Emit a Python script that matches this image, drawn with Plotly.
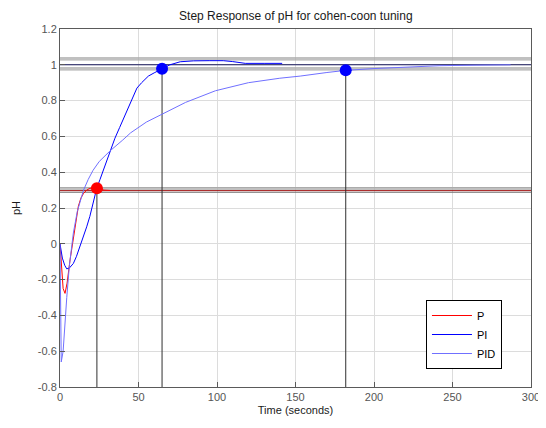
import plotly.graph_objects as go

# ---- data ----
t_p = [0, 0.5, 1.1, 2.0, 3.2, 4.5, 6.4, 8.5, 10, 11.7, 13.3, 14.9, 17, 19, 21, 23.5, 26, 28, 32]
y_p = [0, -0.08, -0.18, -0.25, -0.277, -0.22, -0.09, 0.04, 0.13, 0.21, 0.255, 0.28, 0.30, 0.31, 0.312, 0.31, 0.305, 0.300, 0.298]

t_pi = [0, 0.4, 1.5, 3.0, 4.3, 6.0, 8.5, 10.5, 12.8, 15, 17, 19, 21, 23.4, 25.5, 27.6, 30, 31.9, 35, 38, 41, 45, 49, 52, 56.3, 60, 65, 70, 76.6, 85, 95, 104, 110, 118, 130, 141.5]
y_pi = [0, -0.02, -0.08, -0.12, -0.14, -0.135, -0.11, -0.07, -0.015, 0.04, 0.095, 0.153, 0.23, 0.31, 0.36, 0.41, 0.47, 0.52, 0.59, 0.65, 0.71, 0.79, 0.87, 0.90, 0.937, 0.955, 0.978, 1.0, 1.017, 1.022, 1.023, 1.023, 1.018, 1.008, 1.008, 1.008]

t_pid = [0, 0.3, 0.8, 2.0, 3.0, 4.3, 6.0, 8.5, 11, 15, 18, 21, 25, 32, 40, 45, 55, 65, 80, 99, 120, 140, 153, 170, 182, 200, 217, 242, 265, 287]
y_pid = [0, -0.35, -0.66, -0.60, -0.45, -0.30, -0.12, 0.06, 0.18, 0.30, 0.36, 0.41, 0.46, 0.52, 0.58, 0.62, 0.68, 0.725, 0.79, 0.855, 0.90, 0.925, 0.937, 0.957, 0.969, 0.979, 0.986, 0.995, 0.998, 1.0]

# settling markers (time, value) for P, PI, PID
mark_t = [23.5, 65.0, 182.0]
mark_y = [0.31, 0.978, 0.969]
mark_col = ["#ff0000", "#0000ff", "#0000ff"]

# reference / band levels
final_line = 1.0
band_gray = [1.038, 1.027, 0.982, 0.972, 0.313, 0.306]
band_dark = [0.288]
p_final = 0.297

x_ticks = [0, 50, 100, 150, 200, 250, 300]
x_labels = ["0", "50", "100", "150", "200", "250", "300"]
y_ticks = [-0.8, -0.6, -0.4, -0.2, 0, 0.2, 0.4, 0.6, 0.8, 1.0, 1.2]
y_labels = ["-0.8", "-0.6", "-0.4", "-0.2", "0", "0.2", "0.4", "0.6", "0.8", "1", "1.2"]

X_MIN, X_MAX = 0, 300
Y_MIN, Y_MAX = -0.8, 1.2

fig = go.Figure()

# band lines
for lv in band_gray:
    fig.add_trace(go.Scatter(x=[X_MIN, X_MAX], y=[lv, lv], mode="lines",
                             line=dict(color="#ababab", width=1.3),
                             showlegend=False, hoverinfo="skip"))
for lv in band_dark:
    fig.add_trace(go.Scatter(x=[X_MIN, X_MAX], y=[lv, lv], mode="lines",
                             line=dict(color="#707070", width=1),
                             showlegend=False, hoverinfo="skip"))
fig.add_trace(go.Scatter(x=[X_MIN, X_MAX], y=[final_line, final_line], mode="lines",
                         line=dict(color="#14145a", width=1.1),
                         showlegend=False, hoverinfo="skip"))
fig.add_trace(go.Scatter(x=[X_MIN, X_MAX], y=[p_final, p_final], mode="lines",
                         line=dict(color="#a01010", width=1),
                         showlegend=False, hoverinfo="skip"))

# vertical settling lines
for tx, ty in zip(mark_t, mark_y):
    fig.add_trace(go.Scatter(x=[tx, tx], y=[Y_MIN, ty], mode="lines",
                             line=dict(color="#303030", width=1),
                             showlegend=False, hoverinfo="skip"))

# responses
fig.add_trace(go.Scatter(x=t_p, y=y_p, mode="lines", name="P",
                         line=dict(color="#ff0000", width=1)))
fig.add_trace(go.Scatter(x=t_pi, y=y_pi, mode="lines", name="PI",
                         line=dict(color="#0000ff", width=1)))
fig.add_trace(go.Scatter(x=t_pid, y=y_pid, mode="lines", name="PID",
                         line=dict(color="#7070ff", width=1)))

# markers
fig.add_trace(go.Scatter(x=mark_t, y=mark_y, mode="markers",
                         marker=dict(color=mark_col, size=12, line=dict(width=0)),
                         showlegend=False, hoverinfo="skip"))

font = "Liberation Sans, Arial, sans-serif"
axis_common = dict(showgrid=True, gridcolor="#dcdcdc", gridwidth=1,
                   showline=True, linecolor="#5a5a5a", linewidth=1, mirror=True,
                   ticks="inside", ticklen=5, tickcolor="#5a5a5a", automargin=False,
                   zeroline=False, tickfont=dict(family=font, size=11, color="#555555"))

# the page body adds an 8px offset; figure is sized so the plot lands where the reference has it
fig.update_layout(
    width=538, height=420,
    margin=dict(l=52, r=15, t=21, b=41),
    paper_bgcolor="white", plot_bgcolor="white",
    title=dict(text="Step Response of pH for cohen-coon tuning", x=0.535, xanchor="center",
               y=0.982, yanchor="middle", automargin=False,
               font=dict(family=font, size=12, color="#1a1a1a")),
    xaxis=dict(range=[X_MIN, X_MAX], tickvals=x_ticks, ticktext=x_labels,
               title=dict(text="Time (seconds)", font=dict(family=font, size=11, color="#1a1a1a"), standoff=4),
               **axis_common),
    yaxis=dict(range=[Y_MIN, Y_MAX], tickvals=y_ticks, ticktext=y_labels,
               title=dict(text="pH", font=dict(family=font, size=11, color="#1a1a1a"), standoff=14),
               **axis_common),
    legend=dict(x=0.777, y=0.243, xanchor="left", yanchor="top",
                bgcolor="white", bordercolor="#000000", borderwidth=1,
                font=dict(family=font, size=11, color="#000000"),
                tracegroupgap=0, itemwidth=40),
    showlegend=True,
)

fig.write_html("out.html")
